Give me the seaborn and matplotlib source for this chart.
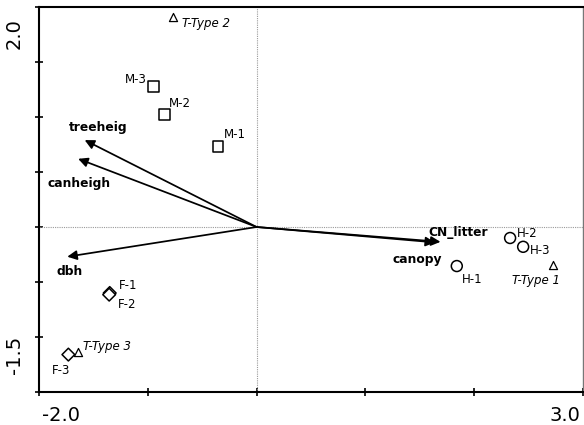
import matplotlib
matplotlib.use("Agg")
import matplotlib.pyplot as plt
import pandas as pd
import seaborn as sns
from matplotlib.transforms import ScaledTranslation

# Site scores (axis 1, axis 2)
site_names = ["M-1", "M-2", "M-3", "H-1", "H-2", "H-3", "F-1", "F-2", "F-3"]
site_group = ["M", "M", "M", "H", "H", "H", "F", "F", "F"]
site_x = [-0.355, -0.85, -0.95, 1.84, 2.33, 2.45, -1.35, -1.355, -1.73]
site_y = [0.73, 1.02, 1.28, -0.355, -0.10, -0.18, -0.60, -0.615, -1.16]

# Type centroids
type_names = ["T-Type 1", "T-Type 2", "T-Type 3"]
type_x = [2.72, -0.77, -1.64]
type_y = [-0.345, 1.91, -1.14]

# Environmental vectors
env_names = ["treeheig", "canheigh", "dbh", "CN_litter", "canopy"]
env_x = [-1.58, -1.64, -1.74, 1.69, 1.64]
env_y = [0.79, 0.62, -0.27, -0.135, -0.14]

x_ticks = [-2.0, -1.0, 0.0, 1.0, 2.0, 3.0]
x_ticklabels = ["-2.0", "", "", "", "", "3.0"]
y_ticks = [2.0, 1.5, 1.0, 0.5, 0.0, -0.5, -1.0, -1.5]
y_ticklabels = ["2.0", "", "", "", "", "", "", "-1.5"]

sites = pd.DataFrame({"name": site_names, "group": site_group,
                      "x": site_x, "y": site_y})
types = pd.DataFrame({"name": type_names, "x": type_x, "y": type_y})
env = pd.DataFrame({"name": env_names, "x": env_x, "y": env_y})

# label placement (offset in points, horizontal alignment)
site_label_pos = {
    "M-1": ((4.5, 8.5), "left"), "M-2": ((3.5, 8), "left"),
    "M-3": ((-4.5, 5), "right"), "H-1": ((3.5, -9.5), "left"),
    "H-2": ((5, 3.5), "left"), "H-3": ((4.5, -2.5), "left"),
    "F-1": ((6.5, 5.5), "left"), "F-2": ((6.5, -7), "left"),
    "F-3": ((-5, -11.5), "center"),
}
type_label_pos = {
    "T-Type 1": ((-12, -11.5), "center"),
    "T-Type 2": ((6.5, -5), "left"),
    "T-Type 3": ((3.5, 4.5), "left"),
}
env_label_pos = {
    "treeheig": ((10, 9), "center"), "canheigh": ((1, -18), "center"),
    "dbh": ((2, -11), "center"), "CN_litter": ((-9, 6.5), "left"),
    "canopy": ((-13, -12), "center"),
}

sns.set_theme(style="white")
plt.rcParams["font.family"] = ["DejaVu Sans"]

fig = plt.figure(figsize=(5.84, 4.25), dpi=100)
ax = fig.add_axes([39 / 584, 33 / 425, 544 / 584, 385 / 425])

# reference lines through the origin
ax.axhline(0, color="#9a9a9a", lw=0.8, ls=(0, (1, 1)), zorder=1)
ax.axvline(0, color="#9a9a9a", lw=0.8, ls=(0, (1, 1)), zorder=1)

# environmental arrows
for _, r in env.iterrows():
    ax.annotate("", xy=(r.x, r.y), xytext=(0, 0),
                arrowprops=dict(arrowstyle="-|>", color="black", lw=1.25,
                                mutation_scale=14, shrinkA=0, shrinkB=0),
                zorder=2)
    (dx, dy), ha = env_label_pos[r["name"]]
    ax.annotate(r["name"], xy=(r.x, r.y), xytext=(dx, dy),
                textcoords="offset points", ha=ha, va="center",
                fontsize=8.8, fontweight="bold", color="black")

sns.scatterplot(data=sites, x="x", y="y", style="group", size="group",
                markers={"M": "s", "H": "o", "F": "D"},
                sizes={"M": 62, "H": 62, "F": 42},
                color="white", edgecolor="black", linewidth=1.1,
                legend=False, ax=ax, zorder=3)
sns.scatterplot(data=types, x="x", y="y", marker="^", s=34,
                color="white", edgecolor="black", linewidth=0.9,
                legend=False, ax=ax, zorder=3)

for _, r in sites.iterrows():
    (dx, dy), ha = site_label_pos[r["name"]]
    ax.annotate(r["name"], xy=(r.x, r.y), xytext=(dx, dy),
                textcoords="offset points", ha=ha, va="center",
                fontsize=8.5, color="black")
for _, r in types.iterrows():
    (dx, dy), ha = type_label_pos[r["name"]]
    ax.annotate(r["name"], xy=(r.x, r.y), xytext=(dx, dy),
                textcoords="offset points", ha=ha, va="center",
                fontsize=8.5, fontstyle="italic", color="black")

ax.set_xlim(-2.0, 3.0)
ax.set_ylim(-1.5, 2.0)
ax.set_xticks(x_ticks, x_ticklabels, fontsize=14)
ax.set_yticks(y_ticks, y_ticklabels, fontsize=14, rotation=90)
ax.set_xlabel("")
ax.set_ylabel("")
ax.tick_params(axis="both", direction="inout", length=6, width=1.2,
               color="black", labelcolor="black", left=True, bottom=True)
ax.tick_params(axis="x", pad=7)
ax.tick_params(axis="y", pad=8)

# keep end labels inside the axis span
xl = ax.get_xticklabels()
xl[0].set_ha("left")
xl[-1].set_ha("right")
xl[0].set_transform(xl[0].get_transform() +
                    ScaledTranslation(2 / 72, 0, fig.dpi_scale_trans))
xl[-1].set_transform(xl[-1].get_transform() +
                     ScaledTranslation(-2 / 72, 0, fig.dpi_scale_trans))
yl = ax.get_yticklabels()
yl[0].set_va("top")
yl[-1].set_va("bottom")
yl[0].set_transform(yl[0].get_transform() +
                    ScaledTranslation(0, -8 / 72, fig.dpi_scale_trans))
yl[-1].set_transform(yl[-1].get_transform() +
                     ScaledTranslation(0, 13 / 72, fig.dpi_scale_trans))

for side in ["left", "bottom", "top"]:
    ax.spines[side].set_color("black")
    ax.spines[side].set_linewidth(1.5)
ax.spines["right"].set_color("#777777")
ax.spines["right"].set_linewidth(1.0)

fig.savefig("out.png", dpi=100)
